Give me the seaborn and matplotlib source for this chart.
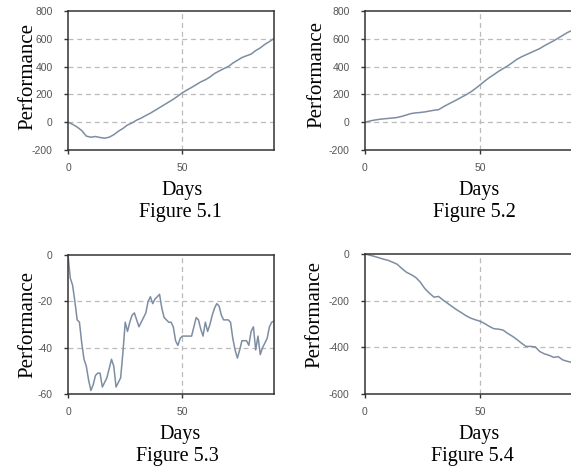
import matplotlib
matplotlib.use("Agg")
import matplotlib.pyplot as plt
import seaborn as sns
import pandas as pd

days_a = list(range(0, 91, 2))
perf_51 = [0, -15, -35, -60, -100, -108, -103, -110, -115, -108, -90, -65, -45, -20, -5, 15,
           30, 48, 65, 85, 105, 125, 145, 165, 188, 212, 232, 250, 270, 290, 305, 325,
           350, 368, 385, 400, 425, 445, 465, 478, 490, 515, 535, 560, 580, 602]
perf_52 = [0, 8, 15, 20, 24, 27, 30, 34, 42, 52, 62, 67, 70, 74, 80, 86,
           90, 110, 128, 145, 162, 180, 198, 218, 242, 268, 295, 320, 342, 365, 385, 405,
           428, 452, 470, 485, 500, 515, 530, 550, 568, 585, 605, 625, 645, 660]
days_b = list(range(0, 91))
perf_53 = [0, -10, -13, -20, -28, -29, -38, -45, -48, -54, -58.5, -56, -52, -51, -51, -57,
           -55, -53, -49, -45, -48, -57, -55, -53, -42, -29, -33, -29, -26, -25, -28, -31,
           -29, -27, -25, -20, -18, -21, -19, -18, -17, -23, -27, -28, -29, -29, -31, -37,
           -39, -36, -35, -35, -35, -35, -35, -31, -27, -28, -32, -35, -29, -33, -30, -26,
           -23, -21, -22, -26, -28, -28, -28, -29, -36, -41, -44.5, -41, -37, -37, -37, -39,
           -33, -31, -41, -35, -43, -40, -38, -36, -31, -29, -28.5]
perf_54 = [0, -5, -10, -16, -22, -27, -35, -44, -62, -78, -88, -100, -120, -148, -168, -185,
           -182, -198, -212, -226, -240, -252, -265, -275, -282, -288, -298, -310, -320, -322, -326, -340,
           -352, -366, -382, -396, -396, -398, -418, -428, -434, -443, -440, -454, -460, -465]

panels = [
    ("Figure 5.1", days_a, perf_51, (-200, 800), [-200, 0, 200, 400, 600, 800]),
    ("Figure 5.2", days_a, perf_52, (-200, 800), [-200, 0, 200, 400, 600, 800]),
    ("Figure 5.3", days_b, perf_53, (-60, 0), [-60, -40, -20, 0]),
    ("Figure 5.4", days_a, perf_54, (-600, 0), [-600, -400, -200, 0]),
]

sns.set_theme(style="white")
plt.rcParams['font.family'] = ['DejaVu Sans']

W, H = 571, 468
fig = plt.figure(figsize=(W / 100, H / 100), dpi=100)
fig.patch.set_facecolor("white")

# axes boxes in pixels: left, top, width, height
boxes = [
    (68, 11, 206, 139),
    (365, 11, 207, 139),
    (68, 255, 206, 139),
    (365, 254, 207, 140),
]
# label placement in pixels: ylabel baseline x, ylabel centre y, xlabel centre x, caption centre x
label_px = [
    (32, 77, 182, 180),
    (321, 75, 479, 474),
    (32, 324, 180, 177),
    (319, 314, 479, 472),
]

serif = "Liberation Serif"
sans = "Liberation Sans"
line_color = "#7d8ea2"

for (title, xs, ys, ylim, yticks), (l, t, w, h), (ylx, yly, dx, fx) in zip(panels, boxes, label_px):
    ax = fig.add_axes([l / W, (H - t - h) / H, w / W, h / H])
    df = pd.DataFrame({"Days": xs, "Performance": ys})
    sns.lineplot(data=df, x="Days", y="Performance", ax=ax, color=line_color, linewidth=1.1)
    ax.set_xlim(0, 90)
    ax.set_ylim(*ylim)
    ax.set_xticks([0, 50])
    ax.set_yticks(yticks)
    ax.set_xticklabels(["0", "50"], fontfamily=sans, fontsize=7.5, color="#555555")
    ax.set_yticklabels([str(v) for v in yticks], fontfamily=sans, fontsize=7.5, color="#555555")
    ax.tick_params(axis="both", direction="out", length=3, width=1, color="#333333",
                   left=True, bottom=True)
    ax.tick_params(axis="x", pad=6.5)
    ax.tick_params(axis="y", pad=8)
    for v in yticks:
        if v != ylim[0] and v != ylim[1]:
            ax.axhline(v, color="#bbbbbb", linestyle=(0, (4, 3)), linewidth=0.9, zorder=0)
    ax.axvline(50, color="#bbbbbb", linestyle=(0, (4, 3)), linewidth=0.9, zorder=0)
    for s in ax.spines.values():
        s.set_color("#333333")
        s.set_linewidth(1.1)

    ax.set_xlabel("Days", fontfamily=serif, fontsize=14.5, color="black")
    ax.xaxis.label.set_verticalalignment("baseline")
    ax.xaxis.set_label_coords((dx - l) / w, -45.5 / h)

    ax.set_ylabel("Performance", fontfamily=serif, fontsize=15, color="black")
    ax.yaxis.label.set_verticalalignment("baseline")
    ax.yaxis.set_label_coords((ylx - l) / w, (t + h - yly) / h)

    ax.text((fx - l) / w, -66.5 / h, title, transform=ax.transAxes, ha="center", va="baseline",
            fontfamily=serif, fontsize=14.5, color="black")

fig.savefig("out.png", dpi=100)
